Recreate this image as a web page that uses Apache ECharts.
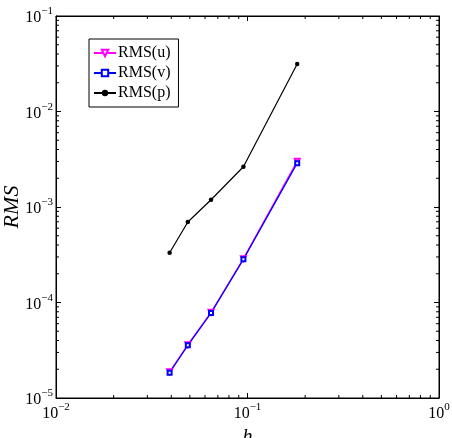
<!DOCTYPE html>
<html>
<head>
<meta charset="utf-8">
<script src="https://cdn.jsdelivr.net/npm/echarts@6/dist/echarts.min.js"></script>
<style>
  html, body { margin: 0; padding: 0; background: #fff; }
  #chart { width: 452px; height: 438px; }
</style>
</head>
<body>
<div id="chart"></div>
<script>
// h = 1/(N+0.5), N = 5..25
const hValues = [0.0392, 0.0488, 0.0645, 0.0952, 0.1818];
const rmsU = [1.88e-5, 3.62e-5, 7.9e-5, 2.88e-4, 3.02e-3];
const rmsV = [1.84e-5, 3.56e-5, 7.75e-5, 2.83e-4, 2.88e-3];
const rmsP = [3.32e-4, 6.97e-4, 1.19e-3, 2.64e-3, 3.14e-2];
const seriesNames = ['RMS(u)', 'RMS(v)', 'RMS(p)'];
const xRange = [0.01, 1];
const yRange = [1e-5, 1e-1];

const FONT = '"Liberation Serif", "DejaVu Serif", serif';

// minor tick positions (2..9 x 10^k)
function minorTicks(lo, hi) {
  const out = [];
  for (let e = Math.round(Math.log10(lo)); e < Math.round(Math.log10(hi)); e++) {
    for (let m = 2; m <= 9; m++) out.push(m * Math.pow(10, e));
  }
  return out;
}
const xMinor = minorTicks(xRange[0], xRange[1]);
const yMinor = minorTicks(yRange[0], yRange[1]);

const powLabel = v => {
  const e = Math.round(Math.log10(v));
  return '{b|10}{s|' + (e < 0 ? '\u2212' + (-e) : e) + '}';
};
const labelRich = {
  b: { fontFamily: FONT, fontSize: 16, color: '#000', lineHeight: 20, verticalAlign: 'bottom' },
  s: { fontFamily: FONT, fontSize: 11, color: '#000', lineHeight: 20, verticalAlign: 'top' }
};

const chart = echarts.init(document.getElementById('chart'));

const axisCommon = {
  type: 'log',
  logBase: 10,
  axisLine: { show: true, lineStyle: { color: '#000', width: 1 } },
  axisTick: { show: true, inside: true, length: 5, lineStyle: { color: '#000', width: 1 } },
  splitLine: { show: false },
  minorTick: { show: false }
};

const minorTick = (x1, y1, x2, y2) => ({
  type: 'line', shape: { x1, y1, x2, y2 }, style: { stroke: '#000', lineWidth: 1 }
});

const option = {
  animation: false,
  backgroundColor: '#fff',
  grid: {
    left: 56, right: 13, top: 16, bottom: 40,
    outerBoundsMode: 'none', containLabel: false,
    show: true, borderColor: '#000', borderWidth: 1, backgroundColor: 'transparent'
  },
  legend: {
    orient: 'vertical',
    left: 89, top: 39,
    data: seriesNames,
    itemWidth: 22, itemHeight: 8, itemGap: 2,
    padding: [5, 8, 5, 4],
    borderColor: '#000', borderWidth: 1,
    backgroundColor: '#fff',
    textStyle: { fontFamily: FONT, fontSize: 16, lineHeight: 18, color: '#000', padding: [0, 0, 0, -3] }
  },
  xAxis: [
    Object.assign({}, axisCommon, {
      min: xRange[0], max: xRange[1], position: 'bottom',
      axisLabel: { formatter: powLabel, rich: labelRich, margin: 4 },
      name: 'h', nameLocation: 'middle', nameGap: 30, nameMoveOverlap: false,
      nameTextStyle: { fontFamily: FONT, fontSize: 20, fontStyle: 'italic', color: '#000' }
    }),
    Object.assign({}, axisCommon, {
      min: xRange[0], max: xRange[1], position: 'top',
      axisLabel: { show: false }
    })
  ],
  yAxis: [
    Object.assign({}, axisCommon, {
      min: yRange[0], max: yRange[1], position: 'left',
      axisLabel: { formatter: powLabel, rich: labelRich, margin: 3 },
      name: 'RMS', nameLocation: 'middle', nameGap: 33, nameRotate: 90, nameMoveOverlap: false,
      nameTextStyle: { fontFamily: FONT, fontSize: 22, fontStyle: 'italic', color: '#000' }
    }),
    Object.assign({}, axisCommon, {
      min: yRange[0], max: yRange[1], position: 'right',
      axisLabel: { show: false }
    })
  ],
  series: [
    {
      name: seriesNames[0], type: 'line',
      data: hValues.map((h, i) => [h, rmsU[i]]),
      symbol: 'emptyTriangle', symbolRotate: 180, symbolSize: 5,
      lineStyle: { color: '#ff00ff', width: 1.2 },
      itemStyle: { color: '#ff00ff', borderWidth: 1 }
    },
    {
      name: seriesNames[1], type: 'line',
      data: hValues.map((h, i) => [h, rmsV[i]]),
      symbol: 'emptyRect', symbolSize: 4,
      lineStyle: { color: '#0000ff', width: 1.2 },
      itemStyle: { color: '#0000ff', borderWidth: 1 }
    },
    {
      name: seriesNames[2], type: 'line',
      data: hValues.map((h, i) => [h, rmsP[i]]),
      symbol: 'circle', symbolSize: 4.5,
      lineStyle: { color: '#000', width: 1.2 },
      itemStyle: { color: '#000' }
    },
    {
      type: 'custom', silent: true, clip: false,
      data: xMinor.map(v => [v, yRange[0]]),
      renderItem: (params, api) => {
        const v = api.value(0);
        const b = api.coord([v, yRange[0]]);
        const t = api.coord([v, yRange[1]]);
        return {
          type: 'group', children: [
            minorTick(b[0], b[1], b[0], b[1] - 3),
            minorTick(t[0], t[1], t[0], t[1] + 3)
          ]
        };
      }
    },
    {
      type: 'custom', silent: true, clip: false,
      data: yMinor.map(v => [xRange[0], v]),
      renderItem: (params, api) => {
        const v = api.value(1);
        const l = api.coord([xRange[0], v]);
        const r = api.coord([xRange[1], v]);
        return {
          type: 'group', children: [
            minorTick(l[0], l[1], l[0] + 3, l[1]),
            minorTick(r[0], r[1], r[0] - 3, r[1])
          ]
        };
      }
    }
  ]
};

chart.setOption(option);
</script>
</body>
</html>
